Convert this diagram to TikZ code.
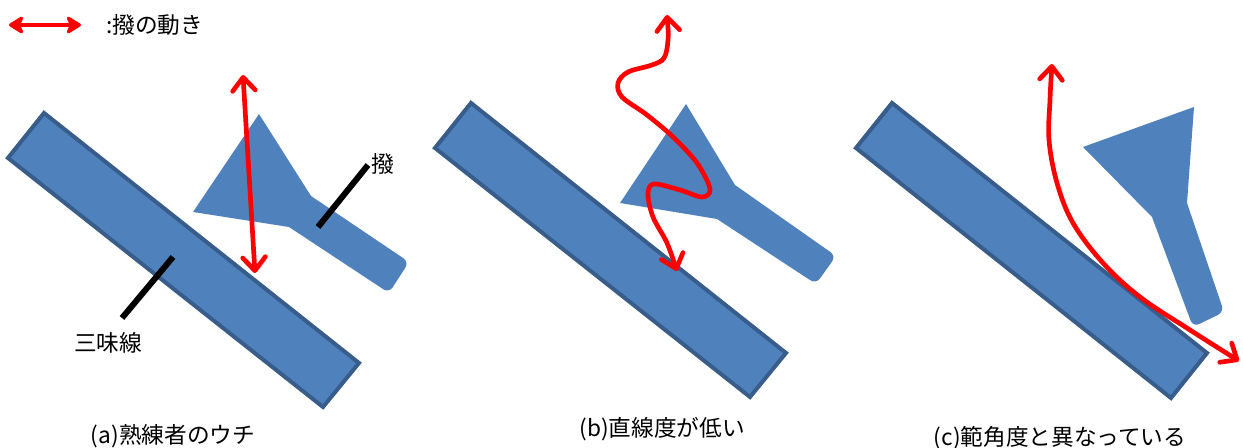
\documentclass[tikz,border=0pt]{standalone}
\usepackage{fontspec}
\setmainfont{Noto Sans CJK JP}
\usetikzlibrary{arrows.meta}
\definecolor{neckfill}{HTML}{4F81BD}
\definecolor{neckedge}{HTML}{385D8A}
\definecolor{motionred}{HTML}{FF0000}
\tikzset{
  neck/.style={fill=neckfill, draw=neckedge, line width=3pt},
  bachi/.style={fill=neckfill},
  barb/.tip={Straight Barb[round,length=10pt,width=17pt]},
  legtip/.tip={Stealth[round,length=13pt,width=16pt,inset=3.5pt]},
  motion/.style={draw=motionred, line width=3.5pt, line cap=round, {barb}-{barb}},
  legmotion/.style={draw=motionred, fill=motionred, line width=3.5pt, line cap=round, {legtip}-{legtip}},
  leader/.style={draw=black, line width=4.5pt},
  lbl/.style={font=\fontsize{17pt}{20pt}\selectfont, inner sep=0pt},
}
\begin{document}
\begin{tikzpicture}[x=0.75pt, y=-0.75pt]
\useasboundingbox (0,0) rectangle (1243,448);

% ---------- legend ----------
\coordinate (leg-l) at (9,25);
\coordinate (leg-r) at (81,25);
\draw[legmotion] (leg-l) -- (leg-r);
\node[lbl, anchor=west] (leg-t) at (106,25) {:撥の動き};

% ---------- panel (a) ----------
\draw[neck] (44,113) -- (359,363) -- (323,407) -- (8,158) -- cycle;
\fill[bachi] (259,114) -- (311,196) [rounded corners=5] -- (409,262) -- (389,293) [sharp corners] -- (289,227) -- (193,212) -- cycle;
\coordinate (a-top) at (243,75);
\coordinate (a-bot) at (255,273);
\draw[motion] (a-top) -- (a-bot);
\node[lbl] (a-bachi) at (383,164) {撥};
\coordinate (a-bachi-in) at (318,227);
\coordinate (a-bachi-out) at (368,165);
\draw[leader] (a-bachi-out) -- (a-bachi-in);
\node[lbl] (a-sami) at (108,343) {三味線};
\coordinate (a-sami-in) at (173,257);
\coordinate (a-sami-out) at (122,318);
\draw[leader] (a-sami-in) -- (a-sami-out);
\node[lbl] (cap-a) at (173,436) {(a)熟練者のウチ};

% ---------- panel (b) ----------
\draw[neck] (471,103) -- (786,353) -- (750,397) -- (435,148) -- cycle;
\fill[bachi] (686,104) -- (735,185) [rounded corners=5] -- (836,256) -- (816,284) [sharp corners] -- (717,219) -- (620,203) -- cycle;
\coordinate (b-top) at (667,15);
\coordinate (b-bot) at (677,271);
\draw[motion] plot[smooth, tension=0.55] coordinates {(b-top) (668,40) (664,58) (652,65) (628,72) (618,83) (622,97) (647,115) (673,137) (697,163) (710,189) (702,197) (680,190) (654,184) (648,194) (653,217) (667,243) (b-bot)};
\node[lbl] (cap-b) at (662,429) {(b)直線度が低い};

% ---------- panel (c) ----------
\draw[neck] (892,103) -- (1207,353) -- (1171,398) -- (856,148) -- cycle;
\fill[bachi] (1083,147) -- (1194,107) -- (1187,203) [rounded corners=5] -- (1224,312) -- (1193,327) [sharp corners] -- (1152,217) -- cycle;
\coordinate (c-top) at (1052,64);
\coordinate (c-bot) at (1239,361);
\draw[motion] plot[smooth, tension=0.6] coordinates {(c-top) (1050,100) (1049,140) (1057,183) (1073,223) (1103,263) (1140,297) (1190,330) (c-bot)};
\node[lbl] (cap-c) at (1060,438) {(c)範角度と異なっている};
\end{tikzpicture}
\end{document}
